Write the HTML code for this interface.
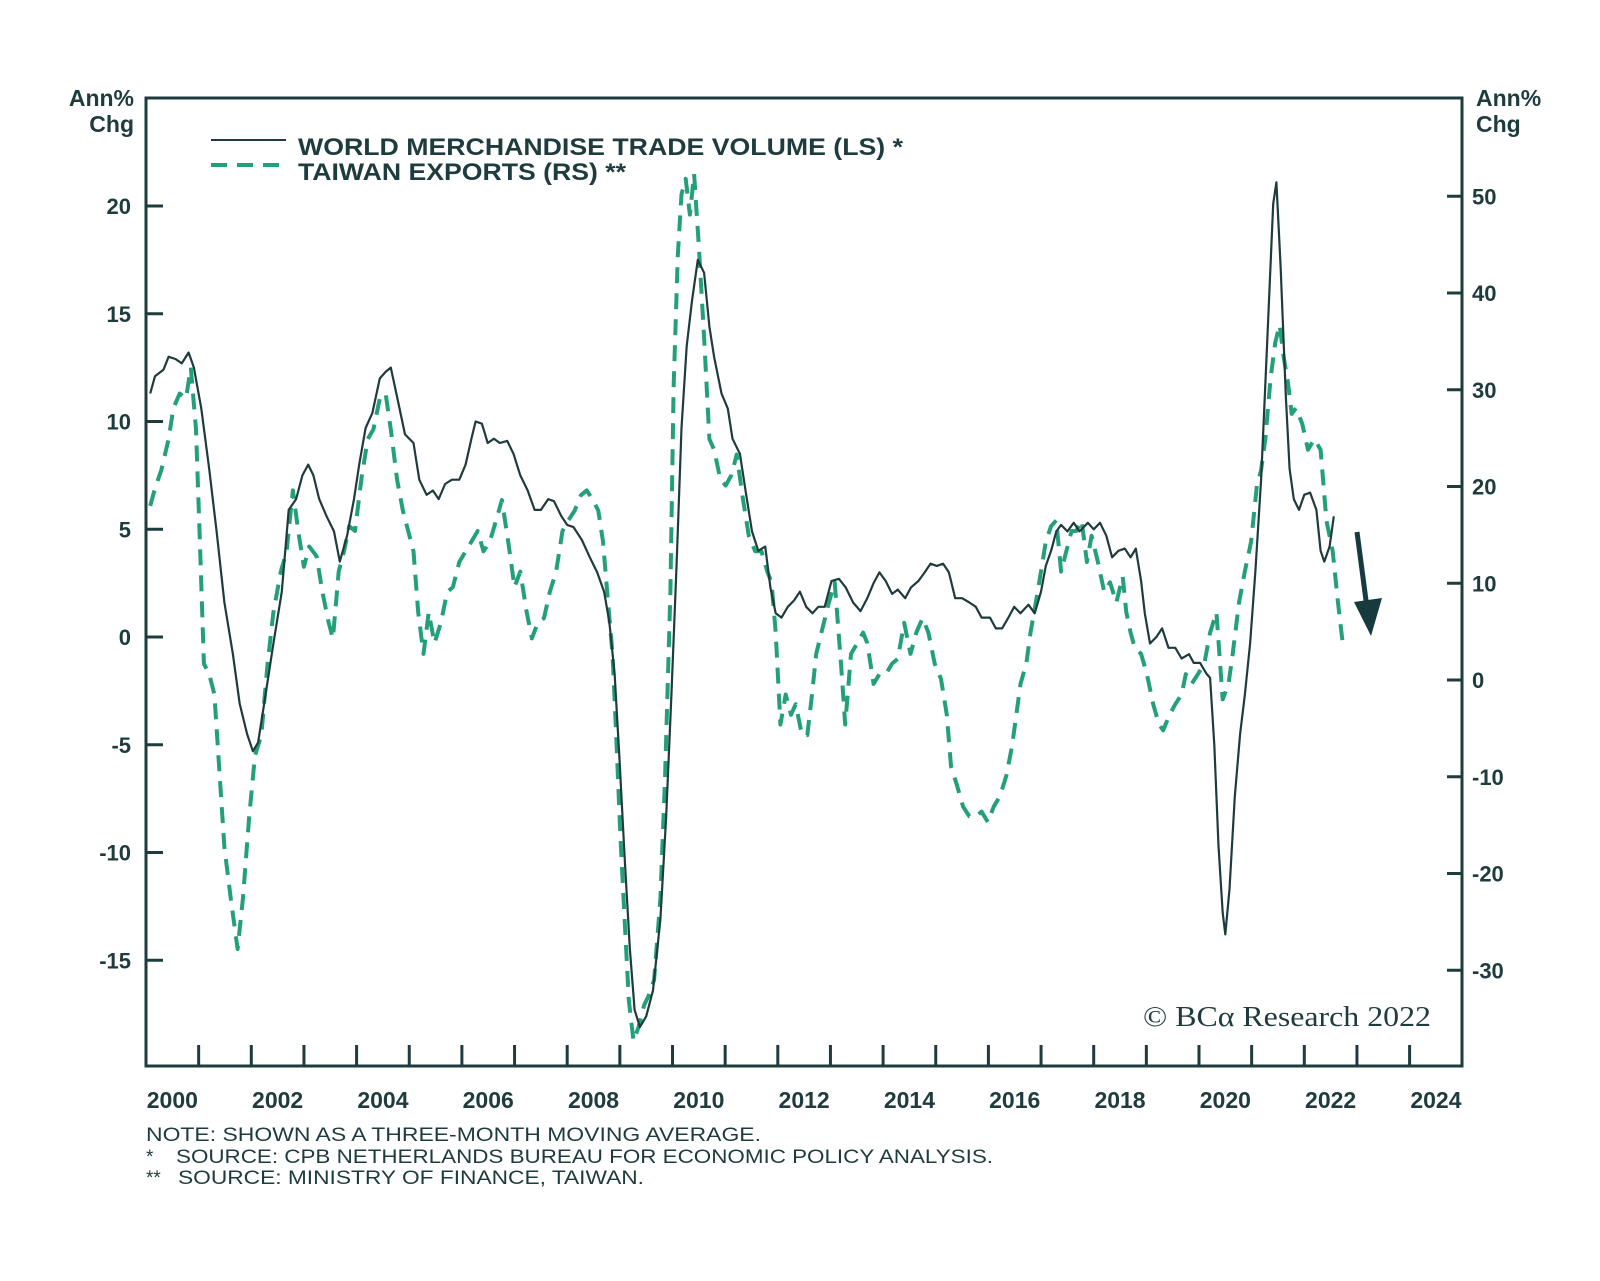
<!DOCTYPE html>
<html><head><meta charset="utf-8"><style>
html,body{margin:0;padding:0;background:#fff}
svg{display:block}
text{font-family:"Liberation Sans",sans-serif;fill:#1e3b3d}
</style></head><body>
<svg id="chart" width="1600" height="1281" viewBox="0 0 1600 1281" xmlns="http://www.w3.org/2000/svg">
<rect x="0" y="0" width="1600" height="1281" fill="#fff"/>
<g id="axes"></g>
<g id="series"></g>
<text x="134" y="106" text-anchor="end" font-size="23" font-weight="bold">Ann%</text>
<text x="134" y="132" text-anchor="end" font-size="23" font-weight="bold">Chg</text>
<text x="1476" y="106" font-size="23" font-weight="bold">Ann%</text>
<text x="1476" y="132" font-size="23" font-weight="bold">Chg</text>
<g>
<line x1="211" y1="140" x2="286" y2="140" stroke="#1e3b3d" stroke-width="2"/>
<text x="298" y="155" font-size="24" font-weight="bold" textLength="605" lengthAdjust="spacingAndGlyphs">WORLD MERCHANDISE TRADE VOLUME (LS) *</text>
<line x1="211" y1="165" x2="286" y2="165" stroke="#23a07a" stroke-width="4" stroke-dasharray="16,10"/>
<text x="298" y="180" font-size="24" font-weight="bold" textLength="328" lengthAdjust="spacingAndGlyphs">TAIWAN EXPORTS (RS) **</text>
</g>
<text x="1143" y="1026" font-size="29" font-family="Liberation Serif,serif" style="font-family:'Liberation Serif',serif" textLength="288" lengthAdjust="spacingAndGlyphs">© BCα Research 2022</text>
<g>
<line x1="1357" y1="532" x2="1367" y2="608" stroke="#163a3e" stroke-width="5"/>
<polygon points="1354,602 1382,598 1371,636" fill="#163a3e"/>
</g>
<text x="146" y="1141" font-size="19" textLength="615" lengthAdjust="spacingAndGlyphs">NOTE: SHOWN AS A THREE-MONTH MOVING AVERAGE.</text>
<text x="146" y="1163" font-size="19">*</text>
<text x="176" y="1163" font-size="19" textLength="817" lengthAdjust="spacingAndGlyphs">SOURCE: CPB NETHERLANDS BUREAU FOR ECONOMIC POLICY ANALYSIS.</text>
<text x="146" y="1184" font-size="19">**</text>
<text x="178" y="1184" font-size="19" textLength="466" lengthAdjust="spacingAndGlyphs">SOURCE: MINISTRY OF FINANCE, TAIWAN.</text>
</svg>
<script>
// Data (years as offsets from 2000)
const worldT=[0.08,0.17,0.33,0.43,0.56,0.68,0.81,0.91,1.05,1.20,1.34,1.49,1.65,1.78,1.92,2.03,2.13,2.27,2.42,2.58,2.71,2.85,2.97,3.08,3.18,3.29,3.43,3.57,3.68,3.82,3.95,4.05,4.17,4.30,4.44,4.55,4.65,4.79,4.92,5.08,5.19,5.33,5.45,5.56,5.68,5.81,5.95,6.07,6.18,6.26,6.38,6.49,6.61,6.72,6.86,6.98,7.11,7.25,7.38,7.50,7.64,7.75,7.89,8.00,8.12,8.28,8.43,8.57,8.70,8.80,8.90,8.99,9.09,9.19,9.28,9.38,9.50,9.63,9.77,9.88,9.98,10.08,10.17,10.27,10.37,10.48,10.60,10.70,10.79,10.93,11.05,11.14,11.28,11.40,11.51,11.63,11.76,11.86,11.96,12.07,12.19,12.31,12.42,12.54,12.66,12.77,12.89,13.02,13.16,13.29,13.43,13.57,13.70,13.82,13.93,14.05,14.17,14.28,14.42,14.53,14.67,14.79,14.90,15.02,15.14,15.25,15.37,15.50,15.64,15.76,15.87,16.03,16.14,16.26,16.38,16.49,16.61,16.76,16.88,17.00,17.09,17.19,17.29,17.38,17.50,17.62,17.73,17.89,18.00,18.12,18.24,18.35,18.47,18.59,18.70,18.80,18.90,18.97,19.07,19.19,19.30,19.42,19.55,19.67,19.81,19.90,20.02,20.14,20.21,20.29,20.37,20.45,20.50,20.58,20.68,20.78,20.87,20.97,21.07,21.18,21.30,21.41,21.47,21.55,21.65,21.72,21.80,21.90,22.00,22.11,22.23,22.31,22.38,22.48,22.56];
const worldV=[11.3,12.1,12.4,13.0,12.9,12.7,13.2,12.5,10.6,7.8,4.9,1.6,-0.8,-3.1,-4.5,-5.3,-4.9,-2.7,-0.3,2.1,5.9,6.4,7.5,8.0,7.5,6.4,5.6,4.9,3.5,4.7,6.4,8.0,9.7,10.4,12.0,12.3,12.5,10.9,9.4,9.0,7.3,6.6,6.8,6.4,7.1,7.3,7.3,8.0,9.2,10.0,9.9,9.0,9.2,9.0,9.1,8.5,7.5,6.8,5.9,5.9,6.4,6.3,5.6,5.2,5.1,4.5,3.7,3.0,2.1,0.7,-1.7,-5.5,-10.2,-14.5,-17.3,-18.1,-17.6,-16.4,-13.1,-8.3,-2.7,3.5,9.7,13.5,15.6,17.5,16.9,14.4,13.0,11.3,10.6,9.2,8.5,6.6,4.9,4.0,4.2,2.3,1.1,0.9,1.4,1.7,2.1,1.4,1.1,1.4,1.4,2.6,2.7,2.3,1.6,1.2,1.8,2.5,3.0,2.6,2.0,2.2,1.8,2.3,2.6,3.0,3.4,3.3,3.4,3.0,1.8,1.8,1.6,1.4,0.9,0.9,0.4,0.4,0.9,1.4,1.1,1.5,1.1,2.1,3.3,4.0,4.9,5.2,4.9,5.3,4.9,5.3,5.0,5.3,4.7,3.7,4.0,4.1,3.7,4.1,2.6,1.1,-0.3,0.0,0.4,-0.5,-0.5,-1.0,-0.8,-1.2,-1.2,-1.7,-1.9,-5.0,-9.7,-12.8,-13.8,-11.7,-7.4,-4.5,-2.7,-0.3,3.0,7.3,13.9,20.1,21.1,17.2,11.1,7.8,6.4,5.9,6.6,6.7,5.9,4.0,3.5,4.2,5.6];
const taiwanT=[0.08,0.17,0.29,0.43,0.52,0.64,0.76,0.85,0.95,1.03,1.10,1.20,1.30,1.40,1.49,1.61,1.74,1.84,1.96,2.07,2.19,2.31,2.42,2.56,2.67,2.79,2.89,3.00,3.10,3.24,3.35,3.47,3.55,3.66,3.76,3.86,3.97,4.09,4.21,4.32,4.44,4.55,4.65,4.77,4.88,4.98,5.08,5.17,5.27,5.37,5.48,5.60,5.72,5.83,5.95,6.07,6.18,6.30,6.41,6.53,6.65,6.76,6.88,7.00,7.11,7.23,7.33,7.44,7.56,7.67,7.79,7.91,8.02,8.14,8.26,8.37,8.49,8.59,8.68,8.76,8.86,8.93,9.01,9.09,9.17,9.26,9.36,9.46,9.55,9.65,9.77,9.86,9.96,10.02,10.10,10.17,10.25,10.33,10.41,10.50,10.60,10.70,10.79,10.91,11.01,11.12,11.22,11.34,11.45,11.57,11.69,11.80,11.88,11.96,12.05,12.15,12.25,12.34,12.46,12.56,12.65,12.73,12.85,12.97,13.08,13.20,13.28,13.39,13.51,13.62,13.70,13.82,13.93,14.05,14.17,14.28,14.40,14.52,14.63,14.75,14.86,14.98,15.10,15.21,15.29,15.41,15.52,15.64,15.76,15.87,15.99,16.10,16.22,16.34,16.45,16.53,16.61,16.72,16.80,16.90,17.00,17.09,17.19,17.29,17.38,17.48,17.58,17.67,17.77,17.87,17.96,18.08,18.20,18.31,18.43,18.55,18.62,18.70,18.78,18.90,19.01,19.13,19.24,19.32,19.44,19.55,19.67,19.75,19.86,19.98,20.10,20.21,20.33,20.45,20.56,20.64,20.76,20.87,20.99,21.10,21.18,21.26,21.36,21.45,21.53,21.61,21.69,21.76,21.84,21.96,22.07,22.19,22.31,22.42,22.54,22.64,22.73];
const taiwanV=[18.0,19.8,21.7,24.9,28.1,29.6,29.1,32.3,25.9,13.3,1.7,0.6,-1.5,-9.9,-17.3,-22.6,-27.8,-22.6,-14.1,-7.8,-5.7,1.7,7.0,11.2,13.3,19.6,15.4,11.7,13.8,12.8,9.1,5.9,4.3,11.2,13.3,15.9,15.4,20.7,24.9,25.9,29.1,29.6,25.9,20.7,17.5,15.4,13.3,7.0,2.7,7.0,3.8,5.9,9.1,9.6,12.2,13.3,14.3,15.4,13.3,14.3,16.5,18.6,14.3,9.6,11.2,7.0,4.3,5.9,6.4,9.1,11.2,15.4,16.5,17.5,19.1,19.6,18.6,17.5,14.3,9.1,2.7,-5.7,-16.2,-24.7,-33.1,-37.3,-35.8,-33.6,-32.6,-31.0,-22.6,-9.9,9.1,30.2,43.9,50.2,51.8,48.1,52.3,44.9,35.4,24.9,23.8,20.7,20.1,21.2,23.3,18.6,14.9,13.3,13.3,11.2,10.1,4.9,-4.6,-1.5,-3.6,-2.5,-5.7,-5.7,-1.5,2.7,5.4,8.0,10.1,1.7,-4.6,2.7,3.8,4.9,3.8,-0.4,0.6,0.6,1.7,2.2,5.9,2.7,4.9,6.4,4.9,1.7,0.1,-3.6,-8.9,-11.0,-13.1,-14.1,-14.1,-13.6,-14.7,-13.1,-12.0,-9.9,-6.8,-3.6,-0.4,1.7,4.9,8.0,11.2,14.3,15.9,16.5,11.2,13.3,15.4,15.4,16.5,12.2,14.9,12.2,9.1,10.1,8.0,10.7,7.0,4.9,3.3,2.7,0.6,-2.5,-4.6,-5.2,-3.6,-2.5,-1.5,0.6,-0.4,0.6,1.7,4.9,7.0,-2.0,-0.4,2.7,8.0,11.2,14.3,20.1,21.7,24.9,31.2,34.9,36.7,33.3,30.7,27.5,28.1,26.5,23.8,24.9,23.8,16.5,13.3,8.0,3.8];
const leftTicks=[20,15,10,5,0,-5,-10,-15];
const rightTicks=[50,40,30,20,10,0,-10,-20,-30];
const yearLabels=[2000,2002,2004,2006,2008,2010,2012,2014,2016,2018,2020,2022,2024];

const L=146,R=1462,T=98,B=1066;
const xS=y=>L+(y-2000)*52.65;
const yL=v=>637-v*21.55;
const yR=v=>680-v*9.675;
const NS='http://www.w3.org/2000/svg';
const C='#1e3b3d';
function mk(tag,attrs,parent){const e=document.createElementNS(NS,tag);for(const k in attrs)e.setAttribute(k,attrs[k]);parent.appendChild(e);return e;}
const ax=document.getElementById('axes'), se=document.getElementById('series');
let fr=mk('rect',{x:L,y:T,width:R-L,height:B-T,fill:'none',stroke:C,'stroke-width':3},ax);


leftTicks.forEach(v=>{
  const y=yL(v);
  const t=mk('line',{x1:L,y1:y,x2:L+17,y2:y,stroke:C,'stroke-width':3},ax);
  
  
  const tx=mk('text',{x:131,y:y+8,'text-anchor':'end','font-size':22,'font-weight':'bold'},ax);
  tx.textContent=v;
  
  
});
rightTicks.forEach(v=>{
  const y=yR(v);
  const t=mk('line',{x1:R-15,y1:y,x2:R,y2:y,stroke:C,'stroke-width':3},ax);
  
  
  const tx=mk('text',{x:R+10,y:y+8,'font-size':22,'font-weight':'bold'},ax);
  tx.textContent=v;
  
  
});
for(let yr=2001;yr<=2024;yr++){
  const x=xS(yr);
  const t=mk('line',{x1:x,y1:B-21,x2:x,y2:B,stroke:C,'stroke-width':3},ax);
  
  
}
yearLabels.forEach(yr=>{
  const tx=mk('text',{x:xS(yr+0.5),y:B+42,'text-anchor':'middle','font-size':23,'font-weight':'bold'},ax);
  tx.textContent=yr;
  
  
});
const tw=mk('polyline',{points:taiwanT.map((t,i)=>xS(2000+t).toFixed(1)+','+yR(taiwanV[i]).toFixed(1)).join(' '),fill:'none',stroke:'#23a07a','stroke-width':4,'stroke-dasharray':'16,10','stroke-linejoin':'round'},se);


const wl=mk('polyline',{points:worldT.map((t,i)=>xS(2000+t).toFixed(1)+','+yL(worldV[i]).toFixed(1)).join(' '),fill:'none',stroke:C,'stroke-width':2.2,'stroke-linejoin':'round'},se);


</script>
</body></html>
